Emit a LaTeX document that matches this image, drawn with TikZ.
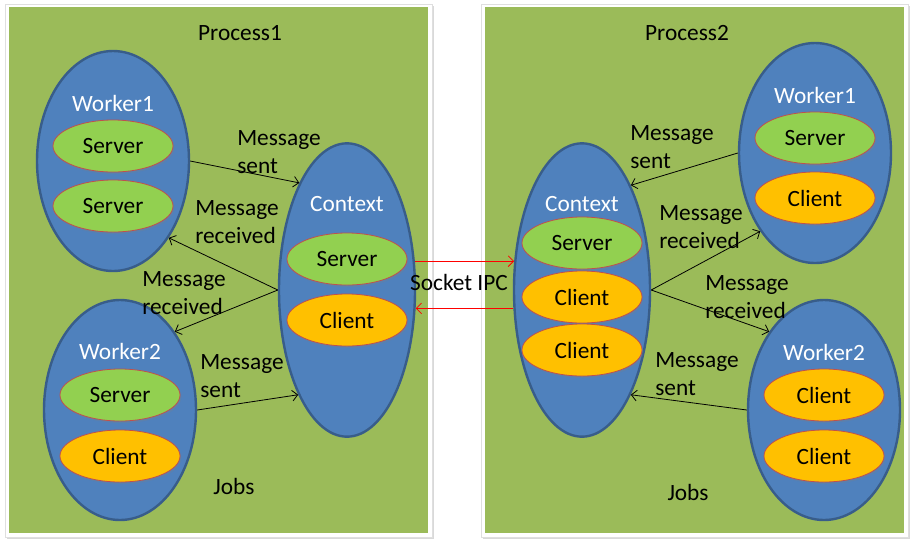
\documentclass[tikz,border=0pt]{standalone}
\usepackage{fontspec}
\setmainfont{Carlito}
\usepackage{tikz}
\usetikzlibrary{arrows.meta,shapes.geometric,positioning,shadows}
\definecolor{pgreen}{RGB}{155,187,89}
\definecolor{wblue}{RGB}{79,129,189}
\definecolor{wblueline}{RGB}{56,93,138}
\definecolor{sgreen}{RGB}{146,208,80}
\definecolor{corange}{RGB}{255,192,0}
\definecolor{cline}{RGB}{192,80,77}
\tikzstyle{worker} = [ellipse, draw=wblueline, fill=wblue, line width=1.8pt, minimum width=114pt, minimum height=165pt, inner sep=0pt]
\tikzstyle{context} = [worker, minimum width=102pt, minimum height=220pt]
\tikzstyle{server} = [ellipse, draw=cline, fill=sgreen, line width=0.6pt, minimum width=90pt, minimum height=39pt, inner sep=0pt, drop shadow={opacity=0.25, shadow xshift=1pt, shadow yshift=-1.5pt}]
\tikzstyle{client} = [server, fill=corange]
\tikzstyle{wtitle} = [text=white]
\tikzstyle{msg} = [anchor=west, align=left, inner sep=0pt]
\tikzstyle{arrow} = [-{Straight Barb[length=4pt,width=8pt]}, line width=0.6pt]
\tikzstyle{ipc} = [arrow, red]
\tikzstyle{panel} = [draw=gray!25, fill=white, drop shadow={opacity=0.3, shadow xshift=1.2pt, shadow yshift=-1.2pt}]

\begin{document}
\begin{tikzpicture}[x=0.75pt, y=-0.75pt, font=\fontsize{17.5}{21.5}\selectfont]
\useasboundingbox (0,0) rectangle (913,544);

% Two process panels
\path[panel] (5,4) rectangle (432,537);
\fill[pgreen] (9,7) rectangle (428,533);
\path[panel] (481,4) rectangle (908,537);
\fill[pgreen] (485,7) rectangle (904,533);

% Process1
\node (p1title) at (240,33) {Process1};
\node[worker] (p1w1) at (113,161) {};
\node[wtitle] (p1w1title) at (113,103) {Worker1};
\node[server] (p1w1s1) at (113,146) {Server};
\node[server] (p1w1s2) at (113,206) {Server};

\node[context] (p1ctx) at (347,290) {};
\node[wtitle] (p1ctxtitle) at (347,204) {Context};
\node[server] (p1ctxs) at (347,259) {Server};
\node[client] (p1ctxc) at (347,320) {Client};

\node[worker] (p1w2) at (120,410) {};
\node[wtitle] (p1w2title) at (120,351) {Worker2};
\node[server] (p1w2s) at (120,395) {Server};
\node[client] (p1w2c) at (120,456) {Client};

\node (p1jobs) at (234,486) {Jobs};

% Process1 messages
\draw[arrow] (p1w1.east) -- (p1ctx.114);
\draw[arrow] (p1ctx.west) -- (p1w1.-54);
\draw[arrow] (p1ctx.west) -- (p1w2.55);
\draw[arrow] (p1w2.east) -- (p1ctx.245);
\node[msg] (p1m1) at (237,152) {Message\\sent};
\node[msg] (p1m2) at (195,222) {Message\\received};
\node[msg] (p1m3) at (142,293) {Message\\received};
\node[msg] (p1m4) at (200,376) {Message\\sent};

% Process2
\node (p2title) at (687,33) {Process2};
\node[context] (p2ctx) at (582,290) {};
\node[wtitle] (p2ctxtitle) at (582,204) {Context};
\node[server] (p2ctxs) at (582,243) {Server};
\node[client] (p2ctxc1) at (582,297) {Client};
\node[client] (p2ctxc2) at (582,350) {Client};

\node[worker] (p2w1) at (815,153) {};
\node[wtitle] (p2w1title) at (815,95) {Worker1};
\node[server] (p2w1s) at (815,138) {Server};
\node[client] (p2w1c) at (815,198) {Client};

\node[worker] (p2w2) at (824,410) {};
\node[wtitle] (p2w2title) at (824,352) {Worker2};
\node[client] (p2w2c1) at (824,395) {Client};
\node[client] (p2w2c2) at (824,456) {Client};

\node (p2jobs) at (688,492) {Jobs};

% Process2 messages
\draw[arrow] (p2w1.west) -- (p2ctx.65);
\draw[arrow] (p2ctx.east) -- (p2w1.235);
\draw[arrow] (p2ctx.east) -- (p2w2.125);
\draw[arrow] (p2w2.west) -- (p2ctx.-65);
\node[msg] (p2m1) at (630,147) {Message\\sent};
\node[msg] (p2m2) at (659,227) {Message\\received};
\node[msg] (p2m3) at (705,297) {Message\\received};
\node[msg] (p2m4) at (655,374) {Message\\sent};

% Socket between the two contexts
\draw[ipc] (p1ctx.23) -- (p2ctx.157);
\draw[ipc] (p2ctx.195) -- (p1ctx.-15);
\node (ipc) at (459,282) {Socket IPC};
\end{tikzpicture}
\end{document}
